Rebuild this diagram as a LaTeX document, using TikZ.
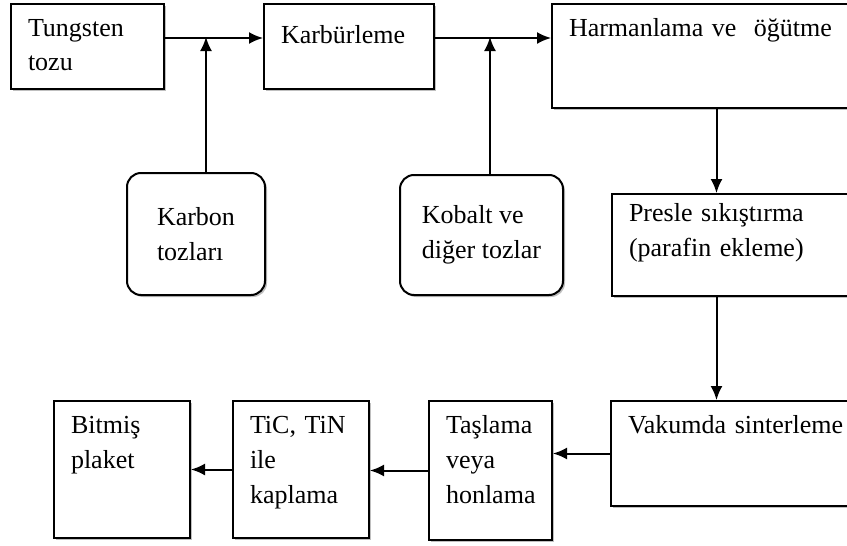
\documentclass[tikz,border=0pt]{standalone}
\usepackage{fontspec}
\setmainfont{Liberation Serif}
\usetikzlibrary{arrows.meta,shadows}

\begin{document}
\begin{tikzpicture}[x=1pt, y=-1pt,
    every node/.style={font=\fontsize{26}{35}\selectfont},
    box/.style={draw, line width=2pt, fill=white, anchor=north west, align=left,
        inner xsep=17pt, inner ysep=14pt, text height=18pt,
        drop shadow={shadow xshift=2pt, shadow yshift=-2pt, fill=black!50}},
    src/.style={draw, line width=2pt, fill=white, rounded corners=14pt, align=left,
        drop shadow={shadow xshift=2pt, shadow yshift=-2pt, fill=black!50}},
    arr/.style={line width=2pt, -{Latex[length=14pt, width=12pt]}}]
                \useasboundingbox (0,0) rectangle (847,546);
                \fill[white] (0,0) rectangle (847,546);
                \clip (0,0) rectangle (847,546);
                \node[box, text width=119pt, text depth=39pt] (tungsten) at (10,3) {Tungsten\\tozu};
                \node[box, text width=136pt, text height=25pt, text depth=32pt] (karbur) at (263,3) {Karbürleme};
                \node[box, text width=295pt, text depth=58pt] (harman) at (551,3) {Harmanlama ve~ öğütme};
                \node[src, minimum width=138pt, minimum height=122pt] (karbon) at (196,234) {Karbon\\tozları};
                \node[src, minimum width=163pt, minimum height=120pt] (kobalt) at (481.5,235) {Kobalt ve\\diğer tozlar};
                \node[box, text width=235pt, text height=13pt, text depth=61pt] (presle) at (611,193) {Presle sıkıştırma\\(parafin ekleme)};
                \node[box, text width=236pt, text depth=59pt] (vakum) at (610,400) {Vakumda sinterleme};
                \node[box, text width=89pt, text depth=93pt] (taslama) at (428,400) {Taşlama\\veya\\honlama};
                \node[box, text width=102pt, text depth=91pt] (tic) at (232,400) {TiC, TiN\\ile\\kaplama};
                \node[box, text width=102pt, text depth=91pt] (bitmis) at (53,400) {Bitmiş\\plaket};
                \coordinate (j1) at (206,37);
                \coordinate (j2) at (490,37);
                \draw[arr] ([yshift=8.5pt]tungsten.east) -- ([yshift=8.5pt]karbur.west);
                \draw[arr] ([yshift=8.5pt]karbur.east) -- ([yshift=18pt]harman.west);
                \draw[arr] (karbon.north -| j1) -- (j1);
                \draw[arr] (kobalt.north -| j2) -- (j2);
                \draw[arr] (harman.south) -- (harman.south |- presle.north);
                \draw[arr] (presle.south -| harman.south) -- (vakum.north -| harman.south);
                \draw[arr] (vakum.west) -- (vakum.west -| taslama.east);
                \draw[arr] (taslama.west) -- (taslama.west -| tic.east);
                \draw[arr] (tic.west) -- (tic.west -| bitmis.east);
              \end{tikzpicture}
\end{document}
